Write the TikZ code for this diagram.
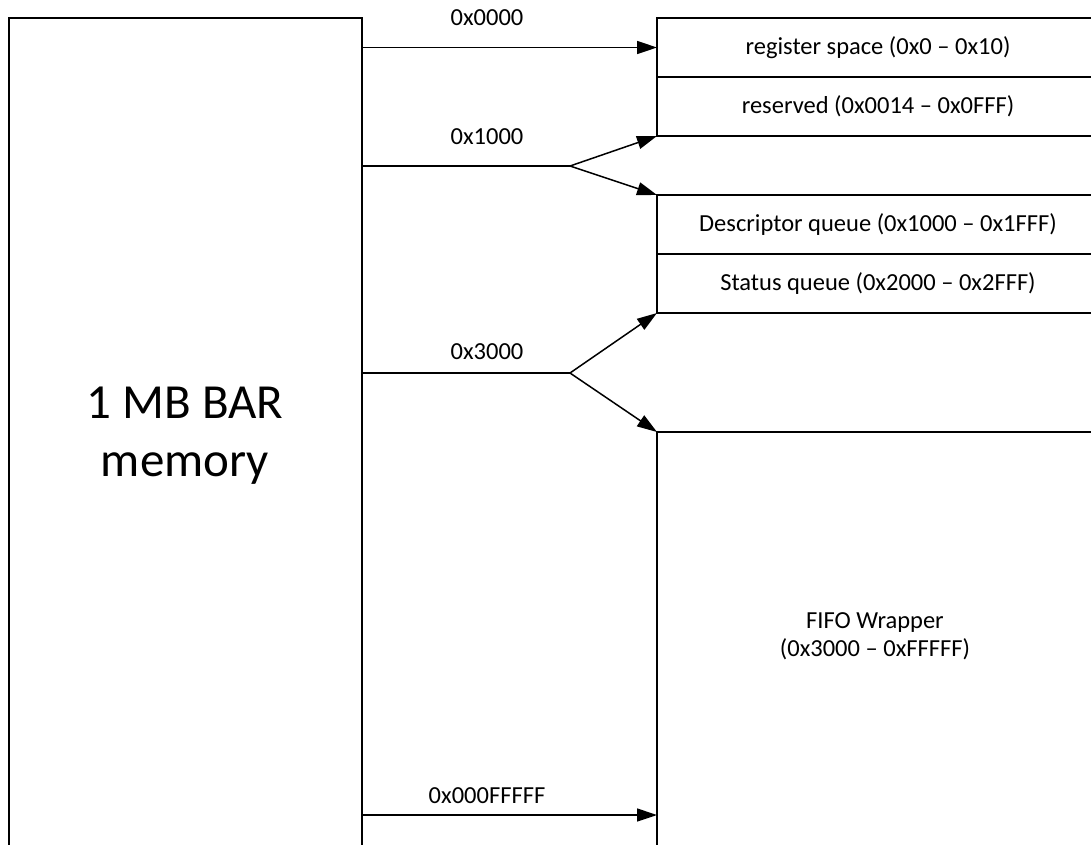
\documentclass[tikz,border=0pt]{standalone}
\usepackage{fontspec}
\setmainfont{Carlito}
\usetikzlibrary{arrows.meta}
\begin{document}
\begin{tikzpicture}[x=1pt,y=-1pt,
  line width=1.5pt,
  region/.style={draw, rectangle, anchor=north west, outer sep=0pt, inner sep=0pt,
    minimum width=442pt, minimum height=59pt, font=\fontsize{24.5}{28}\selectfont},
  addr/.style={anchor=base, font=\fontsize{24.5}{28}\selectfont, inner sep=0pt},
  ptr/.style={-{Triangle[length=20pt,width=13pt]}}]
\useasboundingbox (0,0) rectangle (1091,844);
\clip (0,0) rectangle (1091,844);

% BAR memory block (runs past the bottom edge)
\node[draw, rectangle, anchor=north west, outer sep=0pt, inner sep=0pt,
  minimum width=353pt, minimum height=900pt] (mem) at (9,18) {};
\node[align=center, font=\fontsize{49}{58}\selectfont, inner sep=0pt] (memlabel) at (185,436)
  {1 MB BAR\\memory};

% address regions (run past the right edge)
\node[region] (reg)  at (657,18)  {register space (0x0 -- 0x10)};
\node[region] (resv) at (657,77)  {reserved (0x0014 -- 0x0FFF)};
\node[region] (desc) at (657,195) {Descriptor queue (0x1000 -- 0x1FFF)};
\node[region] (stat) at (657,254) {Status queue (0x2000 -- 0x2FFF)};
\node[region, minimum height=500pt] (fifo) at (657,432) {};
\node[align=center, font=\fontsize{24.5}{28}\selectfont, inner sep=0pt] (fifolabel) at (875,636)
  {FIFO Wrapper\\(0x3000 -- 0xFFFFF)};

% branch points and end of the BAR
\coordinate (b1) at (570,166);
\coordinate (b2) at (570,373);
\coordinate (endL) at (362,815);
\coordinate (endR) at (657,815);

% pointers
\draw[ptr] (mem.north east |- reg.west) -- (reg.west);
\draw (mem.north east |- b1) -- (b1);
\draw[ptr] (b1) -- (resv.south west);
\draw[ptr] (b1) -- (desc.north west);
\draw (mem.north east |- b2) -- (b2);
\draw[ptr] (b2) -- (stat.south west);
\draw[ptr] (b2) -- (fifo.north west);
\draw[ptr] (endL) -- (endR);

% address labels
\node[addr] (a0) at (487,25)  {0x0000};
\node[addr] (a1) at (487,144) {0x1000};
\node[addr] (a3) at (487,359) {0x3000};
\node[addr] (aF) at (487,803) {0x000FFFFF};
\end{tikzpicture}
\end{document}
